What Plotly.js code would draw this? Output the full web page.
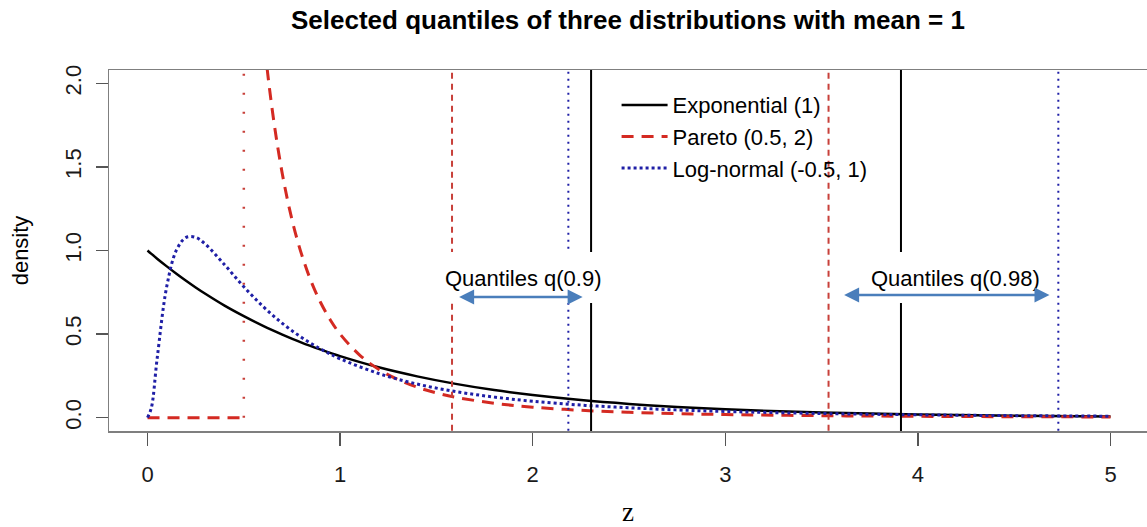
<!DOCTYPE html>
<html>
<head>
<meta charset="utf-8">
<script src="https://cdn.plot.ly/plotly-3.0.1.min.js"></script>
<style>html,body{margin:0;padding:0;background:#fff;}#chart{width:1147px;height:527px;}</style>
</head>
<body>
<div id="chart"></div>
<script>
// ---- data ----
var zGrid = [0,0.02,0.05,0.1,0.15,0.2,0.25,0.3,0.4,0.5,0.6,0.7,0.8,0.9,1,1.2,1.4,1.6,1.8,2,2.25,2.5,2.75,3,3.5,4,4.5,5];
var expDensity = [1,0.980,0.951,0.905,0.861,0.819,0.779,0.741,0.670,0.607,0.549,0.497,0.449,0.407,0.368,0.301,0.247,0.202,0.165,0.135,0.105,0.082,0.064,0.050,0.030,0.018,0.011,0.0067];
var lnormDensity = [0,0.059,0.354,0.786,1.002,1.078,1.078,1.038,0.915,0.783,0.665,0.564,0.480,0.410,0.352,0.264,0.201,0.156,0.123,0.098,0.075,0.059,0.046,0.037,0.0245,0.0168,0.0119,0.0086];
var paretoZ = [0,0.5,null,0.5,0.55,0.6,0.65,0.7,0.75,0.8,0.85,0.9,0.95,1.0,1.1,1.2,1.3,1.4,1.5,1.6,1.8,2.0,2.25,2.5,2.75,3,3.5,4,4.5,5];
var paretoDensity = [0,0,null,4.0,3.005,2.315,1.821,1.458,1.185,0.977,0.814,0.686,0.583,0.5,0.376,0.289,0.228,0.182,0.148,0.122,0.086,0.0625,0.044,0.032,0.024,0.0185,0.0117,0.0078,0.0055,0.004];
var paretoScale = 0.5;            // Pareto lower bound (jump position)
var seriesNames = ["Exponential (1)","Pareto (0.5, 2)","Log-normal (-0.5, 1)"];
var q90 = {exp:2.303, par:1.581, ln:2.185};
var q98 = {exp:3.912, par:3.536, ln:4.729};
var xTicks = [0,1,2,3,4,5];
var yTicks = [0,0.5,1.0,1.5,2.0];
var yTickText = ["0.0","0.5","1.0","1.5","2.0"];
var labels = ["Quantiles q(0.9)","Quantiles q(0.98)"];

var RED = "#d42a22", BLUE = "#1f1fa6", BLACK = "#000000";
var YSPAN = [-1, 3];

function vline(x, color, dash, width) {
  return {x:[x,x], y:YSPAN, type:"scatter", mode:"lines", showlegend:false, hoverinfo:"skip",
          line:{color:color, dash:dash, width:width}};
}

var traces = [
  {x:zGrid, y:expDensity, name:seriesNames[0], type:"scatter", mode:"lines",
   line:{color:BLACK, width:2.5, shape:"spline"}},
  {x:paretoZ, y:paretoDensity, name:seriesNames[1], type:"scatter", mode:"lines", connectgaps:false,
   line:{color:RED, width:3, dash:"12px,8px", shape:"spline"}},
  {x:zGrid, y:lnormDensity, name:seriesNames[2], type:"scatter", mode:"lines",
   line:{color:BLUE, width:3, dash:"dot", shape:"spline"}},
  {x:[paretoScale,paretoScale], y:[0,3], type:"scatter", mode:"lines", showlegend:false, hoverinfo:"skip",
   line:{color:"#c8403a", width:2.5, dash:"2px,17px"}},
  vline(q90.exp, BLACK, "solid", 2),
  vline(q90.par, "#c8403a", "6px,5px", 2),
  vline(q90.ln, BLUE, "2px,5px", 2),
  vline(q98.exp, BLACK, "solid", 2),
  vline(q98.par, "#c8403a", "6px,5px", 2),
  vline(q98.ln, BLUE, "2px,5px", 2)
];

var layout = {
  width:1147, height:527,
  margin:{l:109, r:0, t:70, b:96},
  paper_bgcolor:"#ffffff", plot_bgcolor:"#ffffff",
  font:{family:"Liberation Sans, Arial, sans-serif", size:22, color:"#1a1a1a"},
  title:{text:"Selected quantiles of three distributions with mean = 1",
         font:{family:"Liberation Sans, Arial, sans-serif", size:26, weight:"bold", color:"#000"},
         x:0.5, xref:"paper", xanchor:"center", y:0.962, yref:"container", yanchor:"middle"},
  xaxis:{range:[-0.2,5.1894], tickvals:xTicks, ticktext:xTicks.map(String),
         showgrid:false, zeroline:false, showline:true, mirror:true, linecolor:"#7f7f7f", linewidth:1.5,
         ticks:"outside", ticklen:13, tickcolor:"#555", tickwidth:1.5, ticklabelstandoff:10,
         title:{text:"z", font:{family:"Liberation Serif, Times New Roman, serif", size:27, color:"#000"}, standoff:20}},
  yaxis:{range:[-0.08,2.08], tickvals:yTicks, ticktext:yTickText, tickangle:-90,
         showgrid:false, zeroline:false, showline:true, mirror:true, linecolor:"#7f7f7f", linewidth:1.5,
         ticks:"outside", ticklen:12, tickcolor:"#555", tickwidth:1.5, ticklabelstandoff:6,
         title:{text:"density", font:{size:22, color:"#000"}, standoff:26}},
  legend:{x:0.489, y:0.961, xanchor:"left", yanchor:"top", bgcolor:"rgba(0,0,0,0)",
          font:{size:22, color:"#000"}, tracegroupgap:0, itemwidth:46},
  shapes:[
    {type:"rect", xref:"x", yref:"y", x0:1.516, x1:2.357, y0:0.686, y1:0.991, fillcolor:"#fff", line:{width:0}, layer:"above"},
    {type:"rect", xref:"x", yref:"y", x0:3.707, x1:4.657, y0:0.686, y1:0.991, fillcolor:"#fff", line:{width:0}, layer:"above"}
  ],
  annotations:[
    {x:1.952, y:0.835, xref:"x", yref:"y", text:labels[0], showarrow:false, font:{size:22, color:"#000"}},
    {x:4.195, y:0.835, xref:"x", yref:"y", text:labels[1], showarrow:false, font:{size:22, color:"#000"}},
    {x:2.259, y:0.722, ax:1.610, ay:0.722, xref:"x", yref:"y", axref:"x", ayref:"y", text:"",
     showarrow:true, arrowside:"end+start", arrowhead:2, startarrowhead:2, arrowsize:1.2, startarrowsize:1.2,
     arrowwidth:2.5, arrowcolor:"#4a7ebb", standoff:0, startstandoff:0},
    {x:4.683, y:0.734, ax:3.609, ay:0.734, xref:"x", yref:"y", axref:"x", ayref:"y", text:"",
     showarrow:true, arrowside:"end+start", arrowhead:2, startarrowhead:2, arrowsize:1.2, startarrowsize:1.2,
     arrowwidth:2.5, arrowcolor:"#4a7ebb", standoff:0, startstandoff:0}
  ]
};

Plotly.newPlot("chart", traces, layout, {displayModeBar:false, staticPlot:true});
</script>
</body>
</html>
